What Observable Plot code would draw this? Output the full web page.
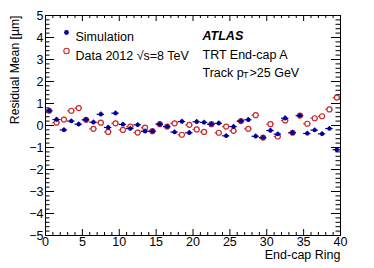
<!DOCTYPE html>
<html>
<head>
<meta charset="utf-8">
<script src="https://cdn.jsdelivr.net/npm/d3@7"></script>
<script src="https://cdn.jsdelivr.net/npm/@observablehq/plot@0.6"></script>
<style>
  html, body { margin: 0; padding: 0; background: #fff; }
</style>
</head>
<body>
<div id="chart"></div>
<script>
// ---- data ----
const rings = d3.range(40); // End-cap ring index 0..39
const simulation = [0.67,0.27,-0.2,0.2,0.06,0.26,0.15,0.51,-0.09,0.56,0.05,-0.14,0.03,-0.26,-0.26,0.06,-0.05,-0.3,0.18,-0.33,0.17,0.14,0.06,0.1,-0.47,-0.05,0.2,0.26,-0.49,-0.55,-0.23,-0.39,0.33,-0.33,0.45,-0.36,-0.21,-0.38,-0.14,-1.1];
const data2012 = [0.67,0.13,0.27,0.67,0.79,0.26,-0.15,0.13,-0.29,0.1,-0.2,-0.05,-0.32,-0.1,-0.26,0.06,-0.05,0.1,-0.42,0.03,-0.18,-0.29,0.06,-0.33,-0.05,-0.24,0.2,-0.15,0.47,-0.55,0.06,-0.5,0.23,-0.33,0.45,0.08,0.33,0.42,0.73,1.27];
const yError = 0.1;
const xTickLabels = [0,5,10,15,20,25,30,35,40];
const yTickLabels = [-5,-4,-3,-2,-1,0,1,2,3,4,5];
const xMinorTicks = d3.range(0, 41, 1).filter(v => v % 5 !== 0);
const yMinorTicks = d3.range(-50, 51, 2).filter(v => v % 10 !== 0).map(v => v / 10);
const legendLabels = ["Simulation", "Data 2012 \u221As=8 TeV"];
const infoLines = ["ATLAS", "TRT End-cap A"];

// ---- layout ----
const W = 374, H = 268;
const mL = 45, mR = 34, mT = 15, mB = 33;
const pw = W - mL - mR, ph = H - mT - mB;
const blue = "#000099", red = "#cc2a2a";
const font = "'Liberation Sans', Arial, Helvetica, sans-serif";
const fs = 12.5;

const sim = rings.map((r, i) => ({ring: r, v: simulation[i]}));
const dat = rings.map((r, i) => ({ring: r, v: data2012[i]}));

const errMarks = (arr, color) => [
  Plot.ruleY(arr, {y: "v", x1: d => d.ring, x2: d => d.ring + 1, stroke: color, strokeWidth: 1.2}),
  Plot.ruleX(arr, {x: d => d.ring + 0.5, y1: d => d.v - yError, y2: d => d.v + yError, stroke: color, strokeWidth: 1.2})
];

const chart = Plot.plot({
  width: W, height: H,
  marginLeft: mL, marginRight: mR, marginTop: mT, marginBottom: mB,
  style: {fontFamily: font, background: "#fff", color: "#000", overflow: "visible"},
  x: {domain: [0, 40]},
  y: {domain: [-5, 5]},
  marks: [
    // ticks inside the frame (all four sides)
    Plot.tickY(yTickLabels, {y: d => d, insetRight: pw - 9, stroke: "#000"}),
    Plot.tickY(yTickLabels, {y: d => d, insetLeft: pw - 9, stroke: "#000"}),
    Plot.tickY(yMinorTicks, {y: d => d, insetRight: pw - 4.5, stroke: "#000"}),
    Plot.tickY(yMinorTicks, {y: d => d, insetLeft: pw - 4.5, stroke: "#000"}),
    Plot.tickX(xTickLabels, {x: d => d, insetTop: ph - 6, stroke: "#000"}),
    Plot.tickX(xTickLabels, {x: d => d, insetBottom: ph - 6, stroke: "#000"}),
    Plot.tickX(xMinorTicks, {x: d => d, insetTop: ph - 3, stroke: "#000"}),
    Plot.tickX(xMinorTicks, {x: d => d, insetBottom: ph - 3, stroke: "#000"}),
    Plot.axisX({ticks: xTickLabels, tickSize: 0, tickPadding: 1.5, fontSize: fs, label: null, tickFormat: d => String(d)}),
    Plot.axisY({ticks: yTickLabels, tickSize: 0, tickPadding: 2, fontSize: fs, label: null}),
    Plot.frame({stroke: "#000", strokeWidth: 1}),
    // data 2012 (red open circles)
    ...errMarks(dat, red),
    Plot.dot(dat, {x: d => d.ring + 0.5, y: "v", r: 2.5, stroke: red, fill: "#fff", strokeWidth: 1.2}),
    // simulation (blue filled)
    ...errMarks(sim, blue),
    Plot.dot(sim, {x: d => d.ring + 0.5, y: "v", r: 2.2, fill: blue, stroke: "none"}),
    // legend
    Plot.dot([legendLabels[0]], {frameAnchor: "top-left", dx: 21, dy: 17, r: 2.4, fill: blue}),
    Plot.dot([legendLabels[1]], {frameAnchor: "top-left", dx: 21, dy: 35.5, r: 2.7, stroke: red, fill: "none", strokeWidth: 1.1}),
    Plot.text([legendLabels[0]], {frameAnchor: "top-left", dx: 30, dy: 17, text: d => d, textAnchor: "start", fontSize: fs}),
    Plot.text([legendLabels[1]], {frameAnchor: "top-left", dx: 30, dy: 35.5, text: d => d, textAnchor: "start", fontSize: fs}),
    // ATLAS label
    Plot.text([infoLines[0]], {frameAnchor: "top-left", dx: 157, dy: 16, text: d => d, textAnchor: "start", fontSize: fs, fontWeight: "bold", fontStyle: "italic"}),
    Plot.text([infoLines[1]], {frameAnchor: "top-left", dx: 157, dy: 34.5, text: d => d, textAnchor: "start", fontSize: fs}),
    Plot.text(["Track p"], {frameAnchor: "top-left", dx: 157, dy: 52.5, text: d => d, textAnchor: "start", fontSize: fs}),
    Plot.text(["T"], {frameAnchor: "top-left", dx: 197.5, dy: 56, text: d => d, textAnchor: "start", fontSize: 9}),
    Plot.text([">25 GeV"], {frameAnchor: "top-left", dx: 204, dy: 52.5, text: d => d, textAnchor: "start", fontSize: fs}),
    // axis titles
    Plot.text(["End-cap Ring"], {frameAnchor: "bottom-right", dy: 23, text: d => d, textAnchor: "end", fontSize: fs}),
    Plot.text(["Residual Mean [\u00B5m]"], {frameAnchor: "top-left", dx: -35, dy: 0, rotate: -90, text: d => d, textAnchor: "end", fontSize: 12.2})
  ]
});
document.getElementById("chart").appendChild(chart);
</script>
</body>
</html>
